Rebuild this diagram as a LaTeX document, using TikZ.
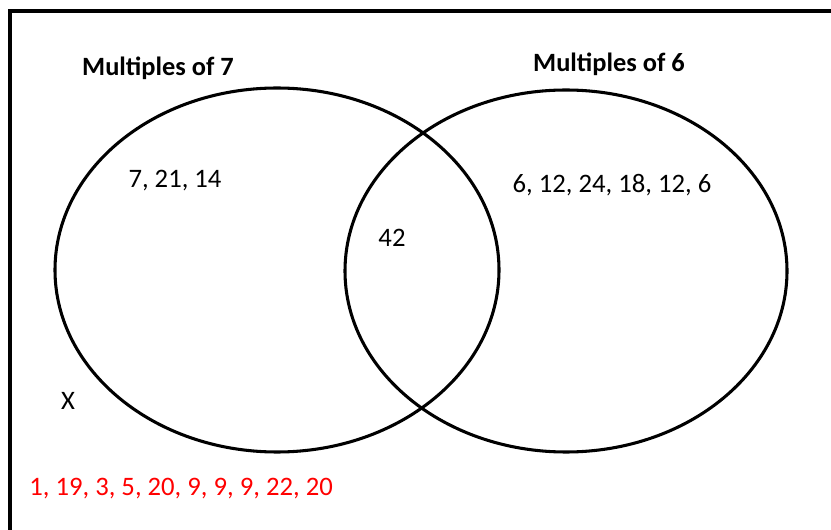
\documentclass[tikz,border=0pt]{standalone}
\usepackage{fontspec}
\setmainfont{Carlito}
\usepackage{xcolor}
\usetikzlibrary{calc}
\definecolor{ink}{HTML}{000000}
\definecolor{outred}{HTML}{FF0000}
\tikzset{setline/.style={draw=ink,line width=2.3pt},
  settitle/.style={font=\fontsize{19.8}{22}\selectfont\bfseries,inner sep=0pt},
  elem/.style={font=\fontsize{20}{22}\selectfont,inner sep=0pt}}
\begin{document}
\begin{tikzpicture}[x=0.75pt,y=-0.75pt]
\useasboundingbox (0,0) rectangle (831,530);
\fill[white] (0,0) rectangle (831,530);
% universal set frame (cut off at right and bottom)
\draw[setline] (10,530) -- (10,11) -- (831,11);
% the two sets
\draw[setline] (277,270) ellipse (222 and 182);
\draw[setline] (566,271) ellipse (221 and 181);
\node[settitle] (t7) at (158,68) {Multiples of 7};
\node[settitle] (t6) at (609,64) {Multiples of 6};
\node[elem] (only7) at (175,181) {7, 21, 14};
\node[elem] (both) at (392,238) {42};
\node[elem] (only6) at (612,185) {6, 12, 24, 18, 12, 6};
\node[elem] (univ) at (68,401) {X};
\node[elem,text=outred] (rest) at (181,489) {1, 19, 3, 5, 20, 9, 9, 9, 22, 20};
\end{tikzpicture}
\end{document}
